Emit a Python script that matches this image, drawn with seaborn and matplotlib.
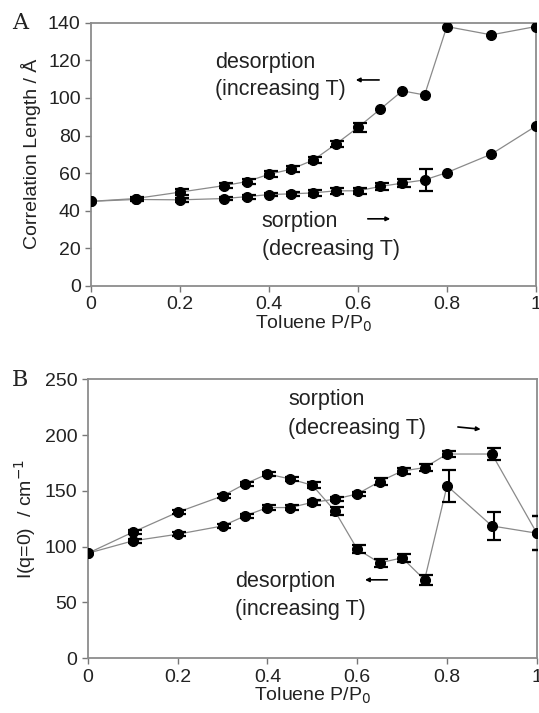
import numpy as np
import pandas as pd
import matplotlib
matplotlib.use("Agg")
import matplotlib.pyplot as plt
import seaborn as sns

sns.set_style("ticks")
plt.rcParams['font.family'] = ['Liberation Sans', 'DejaVu Sans']

# toluene relative pressure
pp0 = [0, 0.1, 0.2, 0.3, 0.35, 0.4, 0.45, 0.5, 0.55, 0.6, 0.65, 0.7, 0.75, 0.8, 0.9, 1.0]

# panel A - correlation length (A)
corr_des = [45, 46.5, 49.9, 53.4, 55.5, 59.4, 62.1, 67, 75.4, 84.3, 94, 103.8, 101.6, 138, 133.6, 138]
corr_des_err = [0, 1, 1.5, 1.5, 1.5, 1.5, 1.5, 1.5, 1.5, 2.5, 0, 0, 0, 0, 0, 0]
corr_sor = [45, 46, 45.8, 46.5, 47.5, 48.6, 49, 49.5, 50.6, 50.6, 52.9, 54.7, 56.4, 60.3, 70.1, 85]
corr_sor_err = [0, 1, 1, 1, 1, 1, 1, 1.5, 1.5, 1.5, 2, 2, 5.8, 0, 0, 0]

# panel B - I(q=0) (cm-1)
iq_des = [94, 112.9, 130.8, 145.4, 156.2, 165.1, 160.7, 155, 132, 97.7, 85.4, 89.9, 70.2, 154.5, 118.5, 112]
iq_des_err = [0, 2, 2, 2, 2, 2, 2, 2.5, 3.5, 3.5, 3.5, 3.5, 4.5, 14.6, 12.7, 15]
iq_sor = [94, 105.1, 111.1, 118.5, 127.5, 135, 135, 139.6, 142.5, 147.2, 158.3, 167.8, 170.8, 183, 183, 112]
iq_sor_err = [0, 2, 2, 2, 2, 2, 2, 2, 2, 2, 3, 3, 3, 3, 5.5, 15]

txt = "#222222"
fs = 14      # ticks / axis labels
fa = 15.5    # annotations

fig = plt.figure(figsize=(5.39, 7.13), dpi=100)
axA = fig.add_axes([0.169, 0.599, 0.825, 0.369])
axB = fig.add_axes([0.163, 0.077, 0.833, 0.391])


def draw_branch(ax, y, err):
    df = pd.DataFrame({"x": pp0, "y": y})
    sns.lineplot(data=df, x="x", y="y", ax=ax, color="#8a8a8a", lw=0.9,
                 marker="o", markersize=7.2, markerfacecolor="black",
                 markeredgecolor="black", zorder=3)
    e = np.array(err)
    m = e > 0
    ax.errorbar(np.array(pp0)[m] + 0.004, np.array(y)[m], yerr=e[m], fmt="none",
                ecolor="black", elinewidth=1.5, capsize=5, capthick=1.6, zorder=4)


def style(ax, ymax, ystep, ylabel):
    ax.set_xlim(0, 1)
    ax.set_ylim(0, ymax)
    ax.set_xticks([0, 0.2, 0.4, 0.6, 0.8, 1])
    ax.set_xticklabels(["0", "0.2", "0.4", "0.6", "0.8", "1"])
    ax.set_yticks(np.arange(0, ymax + 1, ystep))
    ax.tick_params(labelsize=fs, colors="#777777", labelcolor=txt, length=4, width=1)
    for s in ax.spines.values():
        s.set_visible(True)
        s.set_color("#8c8c8c")
        s.set_linewidth(1.3)
    ax.set_xlabel("Toluene P/P$_0$", fontsize=fs, color=txt, labelpad=0)
    ax.set_ylabel(ylabel, fontsize=fs, color=txt, labelpad=5)


def arrow(ax, x0, y0, x1, y1):
    ax.annotate("", xy=(x1, y1), xytext=(x0, y0),
                arrowprops=dict(arrowstyle="-|>", color="black", lw=1.2, mutation_scale=6))


# panel A
draw_branch(axA, corr_des, corr_des_err)
draw_branch(axA, corr_sor, corr_sor_err)
style(axA, 140, 20, "Correlation Length / Å")
axA.text(0.279, 118.7, "desorption", fontsize=fa, color=txt, va="center")
axA.text(0.279, 104.3, "(increasing T)", fontsize=fa, color=txt, va="center")
arrow(axA, 0.654, 109.6, 0.589, 109.6)
axA.text(0.384, 34.2, "sorption", fontsize=fa, color=txt, va="center")
axA.text(0.384, 19.2, "(decreasing T)", fontsize=fa, color=txt, va="center")
arrow(axA, 0.616, 35.7, 0.679, 35.7)
fig.text(0.022, 0.968, "A", fontsize=16, family="DejaVu Serif", color=txt, va="center")

# panel B
draw_branch(axB, iq_des, iq_des_err)
draw_branch(axB, iq_sor, iq_sor_err)
style(axB, 250, 50, "I(q=0)  / cm$^{-1}$")
axB.text(0.446, 232, "sorption", fontsize=fa, color=txt, va="center")
axB.text(0.446, 206, "(decreasing T)", fontsize=fa, color=txt, va="center")
arrow(axB, 0.818, 207.5, 0.881, 205)
axB.text(0.328, 68.6, "desorption", fontsize=fa, color=txt, va="center")
axB.text(0.328, 43.3, "(increasing T)", fontsize=fa, color=txt, va="center")
arrow(axB, 0.673, 70.2, 0.611, 70.2)
fig.text(0.022, 0.467, "B", fontsize=16, family="DejaVu Serif", color=txt, va="center")

fig.savefig("out.png", dpi=100)
